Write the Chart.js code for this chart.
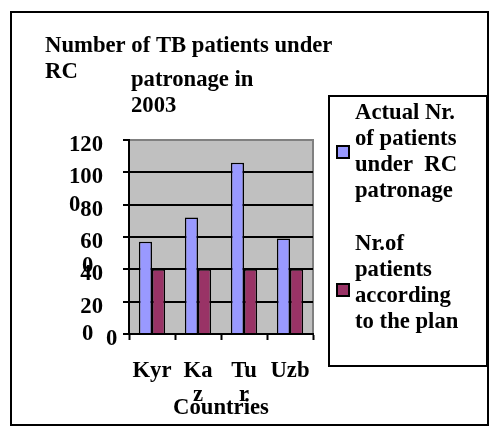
<!DOCTYPE html>
<html>
<head>
<meta charset="utf-8">
<script src="https://cdn.jsdelivr.net/npm/chart.js@4"></script>
<style>
  html, body { margin: 0; padding: 0; background: #fff; }
  #wrap { width: 493px; height: 426px; }
</style>
</head>
<body>
<div id="wrap"><canvas id="chart" width="493" height="426"></canvas></div>
<script>
const countries = ["Kyr", ["Ka", "z"], ["Tu", "r"], "Uzb"];
const actualPatients = [57, 72, 106, 59];
const plannedPatients = [40, 40, 40, 40];
const seriesNames = ["Actual Nr. of patients under  RC patronage", "Nr.of patients according to the plan"];
const legendLines = [
  ["Actual Nr.", "of patients", "under  RC", "patronage"],
  ["Nr.of", "patients", "according", "to the plan"]
];
const titleLines = ["Number of TB patients under", "RC", "patronage in", "2003"];
const axisTitle = "Countries";

const SIZE = 22.7;
const FONT = "bold " + SIZE + "px 'Liberation Serif', 'Times New Roman', serif";

// frame, plot background, odd title layout, boxed legend
const decor = {
  id: "decor",
  beforeDraw(chart) {
    const ctx = chart.ctx;
    const a = chart.chartArea;
    ctx.save();
    ctx.fillStyle = "#fff";
    ctx.fillRect(0, 0, chart.width, chart.height);
    ctx.fillStyle = "#c0c0c0";
    ctx.fillRect(a.left, a.top, a.right - a.left, a.bottom - a.top);
    ctx.strokeStyle = "#808080";
    ctx.lineWidth = 2;
    ctx.strokeRect(a.left, a.top, a.right - a.left, a.bottom - a.top);
    ctx.restore();
  },
  afterDraw(chart) {
    const ctx = chart.ctx;
    ctx.save();
    ctx.strokeStyle = "#000";
    ctx.lineWidth = 2;
    ctx.strokeRect(11, 12, 477, 413);
    ctx.strokeRect(329, 96, 158, 270);

    ctx.fillStyle = "#000";
    ctx.font = FONT;
    ctx.textBaseline = "alphabetic";
    ctx.textAlign = "left";
    ctx.fillText(titleLines[0], 45, 52);
    ctx.fillText(titleLines[1], 45, 78);
    ctx.fillText(titleLines[2], 131, 86);
    ctx.fillText(titleLines[3], 131, 112);

    // stray zeros seen in the original
    ctx.fillText("0", 69, 211);
    ctx.fillText("0", 82, 272);
    ctx.fillText("0", 82, 340);
    ctx.fillText("0", 106, 345);

    // legend
    const tops = [119, 250];
    const boxY = [146, 284];
    chart.data.datasets.forEach((ds, i) => {
      ctx.fillStyle = ds.backgroundColor;
      ctx.fillRect(337, boxY[i], 12, 12);
      ctx.strokeStyle = "#000";
      ctx.lineWidth = 2;
      ctx.strokeRect(337, boxY[i], 12, 12);
      ctx.fillStyle = "#000";
      legendLines[i].forEach((line, j) => {
        ctx.fillText(line, 355, tops[i] + j * 26);
      });
    });
    ctx.restore();
  }
};

const tickFont = { family: "'Liberation Serif', serif", size: SIZE, weight: "bold" };

new Chart(document.getElementById("chart"), {
  type: "bar",
  data: {
    labels: countries,
    datasets: [
      {
        label: seriesNames[0],
        data: actualPatients,
        backgroundColor: "#9999ff",
        borderColor: "#000",
        borderWidth: 1.5,
        barPercentage: 1,
        categoryPercentage: 0.57
      },
      {
        label: seriesNames[1],
        data: plannedPatients,
        backgroundColor: "#993366",
        borderColor: "#000",
        borderWidth: 1.5,
        barPercentage: 1,
        categoryPercentage: 0.57
      }
    ]
  },
  options: {
    responsive: false,
    animation: false,
    events: [],
    layout: { padding: { left: 0, right: 180, top: 140, bottom: 0 } },
    plugins: {
      legend: { display: false },
      title: { display: false },
      tooltip: { enabled: false }
    },
    scales: {
      x: {
        afterFit: (s) => { s.height = 92; },
        grid: {
          display: true,
          offset: true,
          drawOnChartArea: false,
          tickLength: 6,
          tickColor: "#000",
          tickWidth: 2
        },
        border: { color: "#000", width: 2 },
        ticks: {
          color: "#000",
          maxRotation: 0,
          autoSkip: false,
          padding: 19,
          font: { ...tickFont, lineHeight: 1.05 }
        },
        title: {
          display: true,
          text: axisTitle,
          color: "#000",
          padding: { top: 0, bottom: 4 },
          font: tickFont
        }
      },
      y: {
        min: 0,
        max: 120,
        afterFit: (s) => { s.width = 129; },
        grid: {
          color: (c) => (c.tick && c.tick.value === 120 ? "#808080" : "#000"),
          lineWidth: 2,
          tickLength: 6,
          tickColor: "#000"
        },
        border: { color: "#000", width: 2 },
        ticks: {
          stepSize: 20,
          color: "#000",
          padding: 20,
          labelOffset: 5,
          callback: (v) => (v === 0 ? "" : v),
          font: tickFont
        }
      }
    }
  },
  plugins: [decor]
});
</script>
</body>
</html>
